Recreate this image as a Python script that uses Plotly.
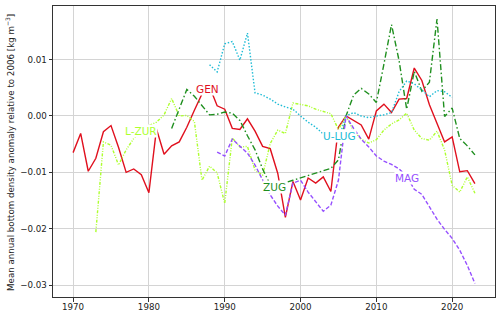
import plotly.graph_objects as go

gen_years = list(range(1970, 2024))
gen_vals = [-0.0065, -0.0031, -0.0098, -0.0075, -0.0028, -0.0017, -0.0056, -0.0100, -0.0094, -0.0104,
            -0.0136, -0.0023, -0.0068, -0.0053, -0.0046, -0.0020, 0.0010, 0.0039, 0.0052, 0.0018,
            0.0012, -0.0022, -0.0024, -0.0005, -0.0027, -0.0054, -0.0058, -0.0102, -0.0180, -0.0116,
            -0.0149, -0.0110, -0.0119, -0.0108, -0.0134, -0.0020, 0.0000, -0.0008, -0.0016, -0.0041,
            0.0009, 0.0021, 0.0006, 0.0030, 0.0031, 0.0085, 0.0063, 0.0020, -0.0014, -0.0046,
            -0.0037, -0.0099, -0.0097, -0.0120]

lzur_years = list(range(1973, 2024))
lzur_vals = [-0.0206, -0.0046, -0.0052, -0.0087, -0.0060, -0.0040, -0.0027, -0.0017, -0.0011, 0.0002,
             0.0031, 0.0000, 0.0001, -0.0010, -0.0114, -0.0089, -0.0101, -0.0155, -0.0039, -0.0055,
             -0.0054, -0.0096, -0.0105, -0.0049, -0.0025, -0.0031, 0.0023, 0.0021, 0.0018, 0.0012,
             0.0008, 0.0004, -0.0024, 0.0000, -0.0027, -0.0041, -0.0048, -0.0042, -0.0025, -0.0014,
             -0.0007, 0.0005, -0.0025, -0.0040, -0.0043, -0.0027, -0.0060, -0.0123, -0.0135, -0.0108,
             -0.0137]

zug_years = [1983, 1984, 1985, 1986, 1987, 1988, 1989, 1990, 1991, 1992, 1993, 1994, 1995, 1996, 1997,
             1998, 1999, 2004, 2005, 2006, 2007, 2008, 2009, 2010, 2011, 2012, 2013, 2014, 2015, 2016,
             2017, 2018, 2019, 2020, 2021, 2022, 2023]
zug_vals = [-0.0022, 0.0012, 0.0047, 0.0035, 0.0019, 0.0002, 0.0003, 0.0007, 0.0005, -0.0008, -0.0035,
            -0.0060, -0.0094, -0.0122, -0.0126, -0.0118, -0.0114, -0.0093, -0.0078, 0.0000, 0.0037,
            0.0049, 0.0039, 0.0024, 0.0092, 0.0162, 0.0098, 0.0012, 0.0079, 0.0044, 0.0060, 0.0172,
            -0.0001, 0.0014, -0.0040, -0.0053, -0.0069]

ulug_years = list(range(1988, 2021))
ulug_vals = [0.0091, 0.0078, 0.0128, 0.0132, 0.0099, 0.0147, 0.0041, 0.0037, 0.0030, 0.0021, 0.0016,
             0.0012, 0.0000, -0.0011, -0.0020, -0.0032, -0.0038, -0.0042, 0.0000, 0.0006, 0.0000,
             -0.0003, 0.0000, 0.0002, 0.0006, 0.0043, 0.0062, 0.0057, 0.0046, 0.0034, 0.0045,
             0.0043, 0.0033]

mag_years = list(range(1989, 2024))
mag_vals = [-0.0064, -0.0071, -0.0041, -0.0053, -0.0066, -0.0087, -0.0114, -0.0140, -0.0160, -0.0176,
            -0.0119, -0.0114, -0.0135, -0.0151, -0.0169, -0.0158, -0.0114, 0.0000, -0.0022, -0.0041,
            -0.0055, -0.0071, -0.0080, -0.0086, -0.0094, -0.0107, -0.0130, -0.0139, -0.0162, -0.0183,
            -0.0201, -0.0217, -0.0238, -0.0265, -0.0297]

x_ticks = [1970, 1980, 1990, 2000, 2010, 2020]
y_ticks = [-0.03, -0.02, -0.01, 0.00, 0.01]
y_title = "Mean annual bottom density anomaly relative to 2006 [kg m<sup>−3</sup>]"

FONT = "DejaVu Sans"

series = [
    ("GEN", gen_years, gen_vals, "#e0101e", "solid", (1987.7, 0.0048)),
    ("L-ZUR", lzur_years, lzur_vals, "#adff2f", "3px,1.5px,1px,1.5px,1px,1.5px", (1979.0, -0.0027)),
    ("ZUG", zug_years, zug_vals, "#1f8f1f", "6px,2.5px,1.5px,2.5px", (1996.6, -0.0126)),
    ("U-LUG", ulug_years, ulug_vals, "#20bcd6", "1.5px,1.8px", (2005.2, -0.0036)),
    ("MAG", mag_years, mag_vals, "#9650ff", "4px,2px", (2014.0, -0.0110)),
]

fig = go.Figure()
annotations = []
for name, xs, ys, color, dash, (lx, ly) in series:
    fig.add_trace(go.Scatter(x=xs, y=ys, mode="lines", name=name,
                             line=dict(color=color, width=1.4, dash=dash)))
    annotations.append(dict(x=lx, y=ly, xref="x", yref="y", text=name, showarrow=False,
                            font=dict(family=FONT, size=10.5, color=color),
                            bgcolor="white", borderpad=0))

# y-axis title as a rotated annotation centred ~10 px from the left edge
annotations.append(dict(x=(10 - 53) / 442, y=0.495, xref="paper", yref="paper",
                        xanchor="center", yanchor="middle", text=y_title, textangle=-90,
                        showarrow=False, font=dict(family=FONT, size=8.7, color="#222222")))

axis_common = dict(showline=True, linecolor="#333333", linewidth=1, mirror=True,
                   ticks="outside", ticklen=3.5, tickcolor="#333333", tickwidth=1,
                   showgrid=True, gridcolor="#d4d4d4", gridwidth=1, zeroline=False,
                   automargin=False,
                   tickfont=dict(family=FONT, size=8.7, color="#222222"))

fig.update_layout(
    width=500, height=315,
    margin=dict(l=53, r=5, t=6, b=18),
    paper_bgcolor="white", plot_bgcolor="white",
    showlegend=False,
    annotations=annotations,
    xaxis=dict(range=[1967.35, 2025.65], tickvals=x_ticks, ticktext=[str(t) for t in x_ticks],
               ticklabelstandoff=-2, **axis_common),
    yaxis=dict(range=[-0.0321, 0.0195], tickvals=y_ticks, tickformat=".2f", **axis_common),
)

fig.write_html("out.html", config={"displayModeBar": False},
               post_script="document.body.style.margin='0';document.body.style.overflow='hidden';")
